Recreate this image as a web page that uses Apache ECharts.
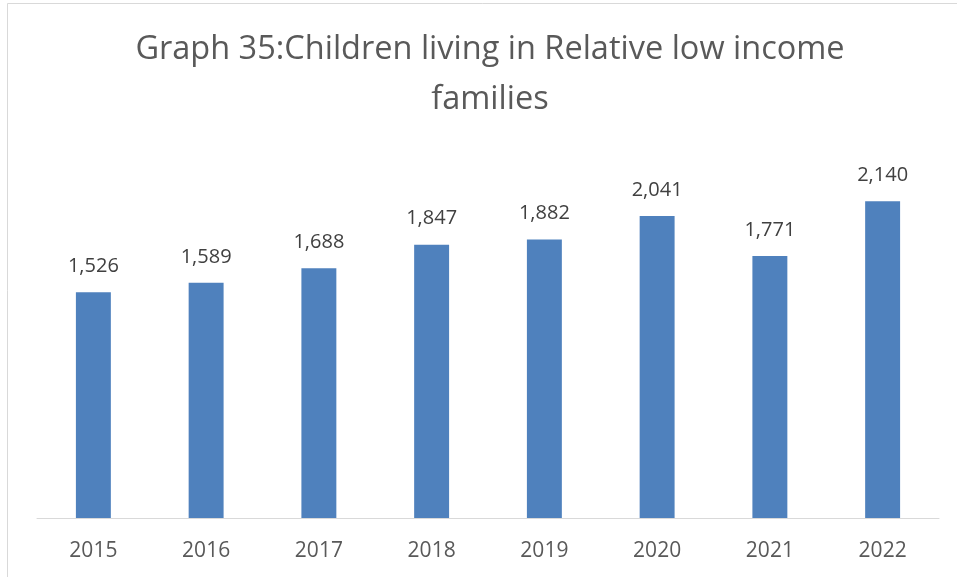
<!DOCTYPE html>
<html>
<head>
<meta charset="utf-8">
<script src="https://cdn.jsdelivr.net/npm/echarts@6/dist/echarts.min.js"></script>
<style>
  html, body { margin: 0; padding: 0; background: #fff; }
  #chart { width: 957px; height: 577px; }
</style>
</head>
<body>
<div id="chart"></div>
<script>
// Years on the category axis
const years = ['2015', '2016', '2017', '2018', '2019', '2020', '2021', '2022'];
// Children living in relative low income families
const children = [1526, 1589, 1688, 1847, 1882, 2041, 1771, 2140];

const chart = echarts.init(document.getElementById('chart'), null, { renderer: 'canvas' });

const fmt = v => v.toLocaleString('en-GB');

chart.setOption({
  animation: false,
  backgroundColor: '#ffffff',
  textStyle: { fontFamily: '"Open Sans", sans-serif' },
  title: {
    text: 'Graph 35:Children living in Relative low income\nfamilies',
    left: 485,
    textAlign: 'center',
    top: 20,
    textStyle: {
      fontFamily: '"Open Sans", sans-serif',
      fontSize: 32.5,
      fontWeight: 'normal',
      color: '#595959',
      lineHeight: 50,
      align: 'center'
    }
  },
  graphic: [
    {
      type: 'polyline',
      shape: { points: [[7.5, 577], [7.5, 3.5], [957, 3.5]] },
      style: { stroke: '#d9d9d9', lineWidth: 1, fill: null },
      silent: true
    }
  ],
  grid: { left: 37, right: 18, top: 148, bottom: 59 },
  xAxis: {
    type: 'category',
    data: years,
    axisLine: { lineStyle: { color: '#d9d9d9', width: 1 } },
    axisTick: { show: false },
    axisLabel: {
      color: '#595959',
      fontSize: 21,
      margin: 23,
      fontFamily: '"Open Sans", sans-serif'
    }
  },
  yAxis: {
    type: 'value',
    min: 0,
    max: 2500,
    interval: 500,
    show: false,
    splitLine: { show: false }
  },
  series: [
    {
      type: 'bar',
      data: children,
      barWidth: '31%',
      itemStyle: { color: '#4f81bd' },
      label: {
        show: true,
        position: 'top',
        distance: 16,
        color: '#404040',
        fontSize: 20,
        fontFamily: '"Open Sans", sans-serif',
        formatter: p => fmt(p.value)
      }
    }
  ]
});
</script>
</body>
</html>
